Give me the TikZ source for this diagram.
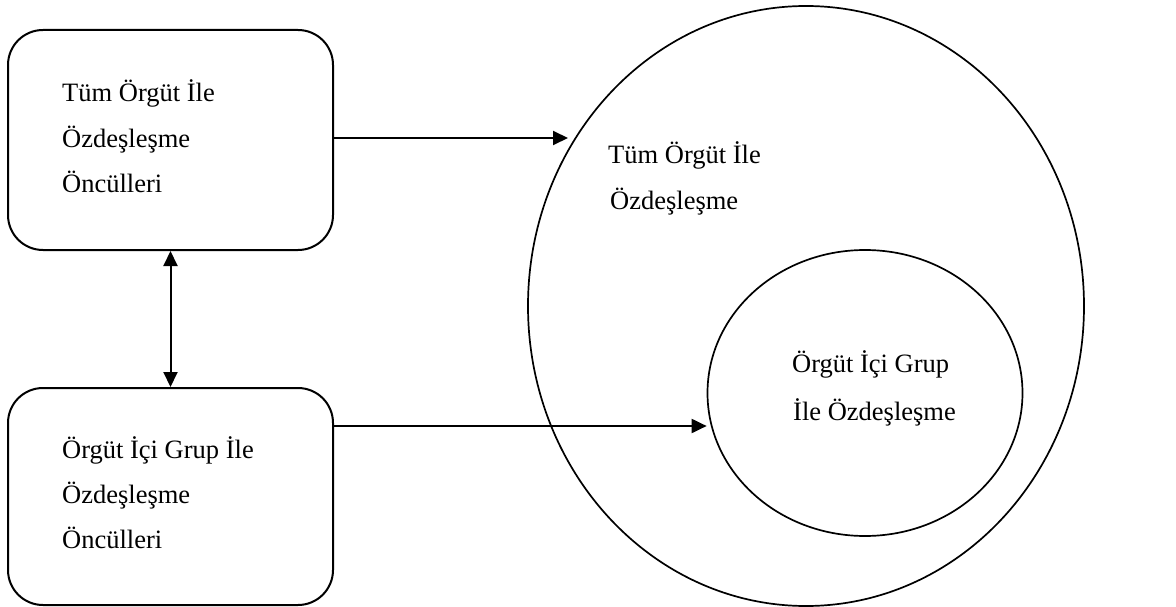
\documentclass[tikz,border=0pt]{standalone}
\usepackage{fontspec}
\setmainfont{Liberation Serif}
\usetikzlibrary{arrows.meta,shapes.geometric}

\tikzset{
  box/.style={draw, line width=2pt, rounded corners=35pt, minimum width=325pt, inner sep=0pt},
  ring/.style={draw, ellipse, line width=1.7pt, inner sep=0pt},
  lbl/.style={anchor=base west, inner sep=0pt, font=\fontsize{26.5}{30}\selectfont},
  link/.style={line width=2pt, -{Triangle[length=15pt,width=14pt]}},
  twoway/.style={line width=2pt, {Triangle[length=15pt,width=14pt]}-{Triangle[length=15pt,width=14pt]}}
}

\begin{document}
\begin{tikzpicture}[x=1pt,y=-1pt]
  \useasboundingbox (0,0) rectangle (1176,607);

  % antecedent boxes
  \node[box, minimum height=220pt] (topbox) at (170.5,140) {};
  \node[box, minimum height=217pt] (botbox) at (170.5,496.5) {};

  % identification ellipses
  \node[ring, minimum width=556pt, minimum height=600pt] (outer) at (806,306) {};
  \node[ring, minimum width=315pt, minimum height=286pt] (inner) at (865,393) {};

  % box texts
  \node[lbl] (ta) at (62,102) {Tüm Örgüt İle};
  \node[lbl] (tb) at (62,148) {Özdeşleşme};
  \node[lbl] (tc) at (62,193) {Öncülleri};
  \node[lbl] (ba) at (62,458) {Örgüt İçi Grup İle};
  \node[lbl] (bb) at (62,503) {Özdeşleşme};
  \node[lbl] (bc) at (62,548) {Öncülleri};

  % ellipse texts
  \node[lbl] (oa) at (608,164) {Tüm Örgüt İle};
  \node[lbl] (ob) at (610,210) {Özdeşleşme};
  \node[lbl] (ia) at (792,372) {Örgüt İçi Grup};
  \node[lbl] (ib) at (793,420) {İle Özdeşleşme};

  % connectors
  \coordinate (s1) at (333,138);
  \coordinate (e1) at (568,138);
  \coordinate (s2) at (333,426);
  \draw[link] (s1) -- (e1);
  \draw[link] (s2) -- (s2 -| inner.west);
  \draw[twoway] (topbox.south) -- (botbox.north);
\end{tikzpicture}
\end{document}
